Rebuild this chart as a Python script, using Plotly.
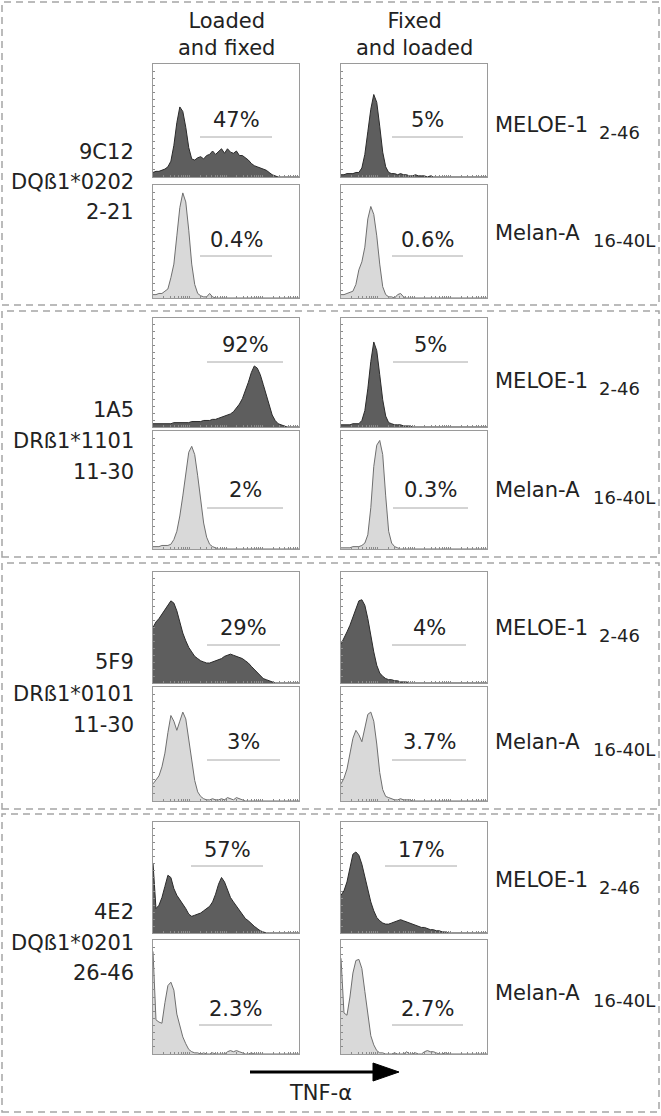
import plotly.graph_objects as go
import math

W, H = 661, 1116
NB = 50
bins = list(range(NB))

# ---- data: histogram heights (% of panel height) per bin ----
h_9C12_load_meloe = [4,5,5,6,7,9,14,28,48,62,58,44,26,16,15,17,18,16,19,20,23,20,23,25,21,25,22,21,23,19,19,17,15,12,10,9,8,7,6,4,2,1]
h_9C12_fix_meloe = [2,2,3,3,3,4,4,8,20,40,60,73,66,45,22,9,4,3,3,2,3,2,2,1,1,2,1,1,1,0,1]
h_9C12_load_melan = [3,3,4,4,6,8,18,30,55,80,93,85,60,30,12,4,2,1,1,4,1]
h_9C12_fix_melan = [3,3,4,5,6,12,25,32,45,70,81,74,55,30,10,3,1,1,0,3,4,1]

h_1A5_load_meloe = [3,3,3,3,3,3,3,4,4,4,4,4,4,5,5,5,5,6,6,6,7,7,8,9,10,11,12,14,17,21,26,33,41,50,56,54,48,39,29,19,11,6,3,2,1]
h_1A5_fix_meloe = [2,2,2,2,3,3,3,6,15,35,60,78,70,48,25,10,4,3,2,2,2,1,1,1]
h_1A5_load_melan = [2,2,2,3,3,3,4,8,15,28,45,65,82,87,80,62,40,22,10,4,2,1]
h_1A5_fix_melan = [1,1,1,1,2,2,2,3,5,12,35,70,88,92,80,45,15,5,2,1]

h_5F9_load_meloe = [50,55,58,62,66,70,74,72,65,55,45,38,32,28,24,22,20,19,18,18,19,20,21,22,24,25,26,25,24,23,22,20,18,15,12,9,6,4,3,2,1]
h_5F9_fix_meloe = [35,40,46,52,60,68,74,75,70,58,42,28,16,9,6,4,3,3,2,2,1,1,1]
h_5F9_load_melan = [15,18,22,30,42,60,75,70,62,70,78,72,55,35,18,8,4,2,1,1,2,1,1,2,1,3,2,1,3,2,1]
h_5F9_fix_melan = [15,20,28,40,55,62,58,52,65,76,78,70,50,25,10,4,3,2,1,1,2,1,1,1]

h_4E2_load_meloe = [63,22,25,32,42,52,50,40,34,30,27,22,17,15,16,17,18,20,22,24,28,35,44,50,46,38,32,28,24,20,16,13,11,8,6,4,2,1]
h_4E2_fix_meloe = [34,38,46,60,71,73,70,62,50,38,28,20,14,11,9,8,8,9,10,11,12,11,10,9,8,7,6,5,5,4,3,3,2,2,1,1]
h_4E2_load_melan = [90,30,28,27,45,60,63,56,35,25,15,9,4,2,1,1,0,1,0,0,1,0,0,0,0,2,3,2,3,2,1,0,0,1]
h_4E2_fix_melan = [84,36,34,50,71,82,83,75,55,36,16,8,3,1,1,0,0,0,1,0,0,0,2,0,0,1,0,0,2,3,2,2,1,0,0,1]

clones = ["9C12", "1A5", "5F9", "4E2"]
alleles = ["DQß1*0202", "DRß1*1101", "DRß1*0101", "DQß1*0201"]
epitopes = ["2-21", "11-30", "11-30", "26-46"]
pct_load_meloe = ["47%", "92%", "29%", "57%"]
pct_fix_meloe = ["5%", "5%", "4%", "17%"]
pct_load_melan = ["0.4%", "2%", "3%", "2.3%"]
pct_fix_melan = ["0.6%", "0.3%", "3.7%", "2.7%"]
col_titles = ["Loaded<br>and fixed", "Fixed<br>and loaded"]
row_peptides = [("MELOE-1", "2-46"), ("Melan-A", "16-40L")]
axis_label = "TNF-α"

hists = [
    [h_9C12_load_meloe, h_9C12_fix_meloe, h_9C12_load_melan, h_9C12_fix_melan],
    [h_1A5_load_meloe, h_1A5_fix_meloe, h_1A5_load_melan, h_1A5_fix_melan],
    [h_5F9_load_meloe, h_5F9_fix_meloe, h_5F9_load_melan, h_5F9_fix_melan],
    [h_4E2_load_meloe, h_4E2_fix_meloe, h_4E2_load_melan, h_4E2_fix_melan],
]
pcts = [[pct_load_meloe[g], pct_fix_meloe[g], pct_load_melan[g], pct_fix_melan[g]] for g in range(4)]

# ---- layout geometry (pixels) ----
COLS = [(153, 299), (341, 487)]
ROWS = [
    [(64, 177), (185, 298)],
    [(318, 427), (431, 549)],
    [(572, 683), (687, 801)],
    [(822, 933), (940, 1054)],
]
BOXES = [(2, 305), (311, 557), (563, 809), (814, 1112)]
LEFT_Y = [(152, 182, 212), (410, 441, 472), (662, 694, 725), (912, 943, 973)]
RIGHT_Y = [(125, 233), (381, 490), (628, 742), (880, 993)]
PCT_Y = [((120, 137), (240, 256)), ((345, 362), (490, 508)), ((628, 645), (742, 760)), ((850, 866), (1009, 1025))]
GATE_X = [
    [(200, 272), (392, 463), (200, 272), (392, 463)],
    [(207, 283), (393, 468), (207, 283), (393, 468)],
    [(207, 280), (392, 466), (207, 280), (392, 466)],
    [(191, 263), (385, 457), (199, 272), (392, 463)],
]

def px(x):
    return x / W

def py(y):
    return 1 - y / H

FONT = "DejaVu Sans"
FS = 21
TXT = "#222222"
DARK_FILL, DARK_LINE = "#5e5e5e", "#2b2b2b"
LIGHT_FILL, LIGHT_LINE = "#d9d9d9", "#6f6f6f"

xt = [(d + math.log10(m)) * (NB - 1) / 4 for d in range(4) for m in range(1, 10)] + [NB - 1]

fig = go.Figure()
layout = dict(width=W, height=H, margin=dict(l=0, r=0, t=0, b=0),
              paper_bgcolor="white", plot_bgcolor="white", showlegend=False)
annotations, shapes = [], []

def txt_ann(text, x, y, size=FS, xanchor="center"):
    return dict(text=text, xref="paper", yref="paper", x=px(x), y=py(y), showarrow=False,
                xanchor=xanchor, yanchor="middle", font=dict(family=FONT, size=size, color=TXT))

k = 0
for g in range(4):
    for r in range(2):
        for c in range(2):
            k += 1
            idx = r * 2 + c
            vals = hists[g][idx] + [0] * (NB - len(hists[g][idx]))
            dark = r == 0
            xa = "x" if k == 1 else f"x{k}"
            ya = "y" if k == 1 else f"y{k}"
            fig.add_trace(go.Scatter(
                x=bins, y=vals, xaxis=xa, yaxis=ya, mode="lines",
                line=dict(color=DARK_LINE if dark else LIGHT_LINE, width=1),
                fill="tozeroy", fillcolor=DARK_FILL if dark else LIGHT_FILL,
                hoverinfo="skip"))
            x0, x1 = COLS[c]
            y0, y1 = ROWS[g][r]
            axstyle = dict(showline=True, mirror=True, linecolor="#9a9a9a", linewidth=1,
                           showgrid=False, zeroline=False, showticklabels=False,
                           ticks="inside", ticklen=2, tickcolor="#8a8a8a", tickwidth=1,
                           fixedrange=True)
            layout[f"xaxis{k}"] = dict(domain=[px(x0), px(x1)], range=[0, NB - 1],
                                       anchor=ya, tickmode="array", tickvals=xt, **axstyle)
            layout[f"yaxis{k}"] = dict(domain=[py(y1), py(y0)], range=[0, 100],
                                       anchor=xa, dtick=6.25, **axstyle)
            gx0, gx1 = GATE_X[g][idx]
            ty, ly = PCT_Y[g][r]
            shapes.append(dict(type="line", xref="paper", yref="paper",
                               x0=px(gx0), x1=px(gx1), y0=py(ly), y1=py(ly),
                               line=dict(color="#a8a8a8", width=1)))
            annotations.append(txt_ann(pcts[g][idx], (gx0 + gx1) / 2, ty))
    for t, yy in zip([clones[g], alleles[g], epitopes[g]], LEFT_Y[g]):
        annotations.append(txt_ann(t, 136, yy, xanchor="right"))
    for (name, sub), yy in zip(row_peptides, RIGHT_Y[g]):
        annotations.append(txt_ann(name, 493, yy, xanchor="left"))
        annotations.append(txt_ann(sub, 597 if name == "MELOE-1" else 591, yy + 7,
                                   size=18, xanchor="left"))
    b0, b1 = BOXES[g]
    shapes.append(dict(type="rect", xref="paper", yref="paper",
                       x0=px(2), x1=px(659), y0=py(b1), y1=py(b0),
                       line=dict(color="#a5a5a5", width=1.5, dash="7px,5px")))

for c, t in enumerate(col_titles):
    cx = (COLS[c][0] + COLS[c][1]) / 2
    annotations.append(txt_ann(t, cx, 34))

shapes.append(dict(type="line", xref="paper", yref="paper", x0=px(250), x1=px(376),
                   y0=py(1072), y1=py(1072), line=dict(color="black", width=3)))
shapes.append(dict(type="path", xref="paper", yref="paper",
                   path=f"M {px(373)},{py(1063)} L {px(399)},{py(1072)} L {px(373)},{py(1081)} Z",
                   fillcolor="black", line=dict(color="black", width=1)))
annotations.append(txt_ann(axis_label, 320, 1093))

layout["annotations"] = annotations
layout["shapes"] = shapes
fig.update_layout(**layout)
fig.write_html("out.html", config={"displayModeBar": False},
               post_script="document.body.style.margin='0';")
